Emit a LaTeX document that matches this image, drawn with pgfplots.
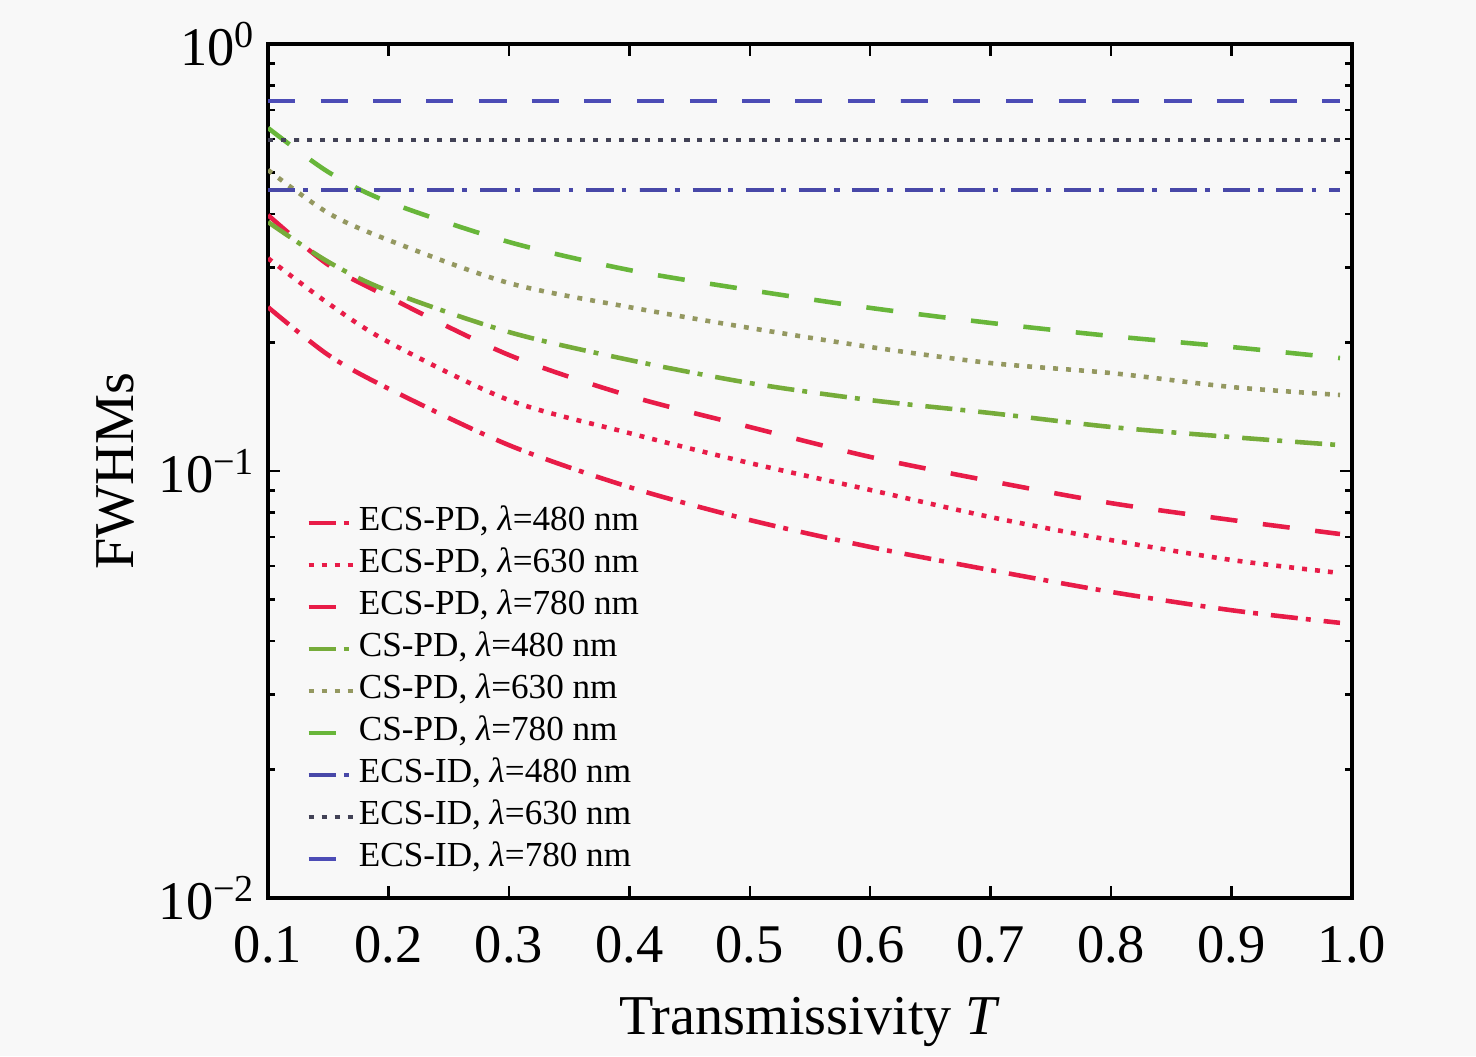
\documentclass[border=0pt]{standalone}
\usepackage{fontspec}
\setmainfont{Liberation Serif}
\usepackage{pgfplots}
\usepackage{pgfplotstable}
\pgfplotsset{compat=1.18}
\definecolor{bgc}{RGB}{248,248,248}
\definecolor{pdc}{RGB}{232,28,72}
\definecolor{csa}{RGB}{118,172,58}
\definecolor{csb}{RGB}{148,152,96}
\definecolor{csc}{RGB}{104,182,58}
\definecolor{ida}{RGB}{72,72,168}
\definecolor{idb}{RGB}{66,66,86}
\definecolor{idc}{RGB}{76,76,182}
\pgfplotstableread{
T     pa      pb      pc      ca      cb      cc
0.10  0.242   0.315   0.3976  0.383   0.507   0.636
0.15  0.187   0.247   0.304   0.309   0.402   0.5015
0.20  0.156   0.2005  0.2556  0.264   0.3475  0.4266
0.30  0.115   0.1466  0.187   0.2116  0.2756  0.3439
0.40  0.0917  0.1227  0.150   0.182   0.242   0.2956
0.50  0.0768  0.1044  0.1268  0.1607  0.2163  0.2654
0.60  0.0664  0.0903  0.1079  0.1466  0.1952  0.241
0.70  0.0586  0.0780  0.0947  0.1367  0.179   0.2222
0.80  0.0521  0.0689  0.0841  0.1268  0.1696  0.2071
0.90  0.0472  0.0619  0.0768  0.1201  0.1573  0.1952
0.99  0.0441  0.0577  0.0712  0.1150  0.1507  0.1839
}\data
\tikzset{
  lddot/.style={dash pattern=on 7.7pt off 2.3pt on 1.4pt off 3.7pt},
  ldott/.style={dash pattern=on 1.4pt off 2.3pt},
  ldash/.style={dash pattern=on 7.7pt off 7.3pt},
}
\begin{document}
\begin{tikzpicture}
\fill[bgc] (0,0) rectangle (14.76cm,10.56cm);
\useasboundingbox (0,0) rectangle (14.76cm,10.56cm);
\begin{axis}[
  at={(2.68cm,1.58cm)}, anchor=south west,
  scale only axis, width=10.84cm, height=8.54cm,
  ymode=log, xmin=0.1, xmax=1, ymin=0.01, ymax=1,
  xtick={0.1,0.2,0.3,0.4,0.5,0.6,0.7,0.8,0.9,1.0},
  xticklabels={0.1,0.2,0.3,0.4,0.5,0.6,0.7,0.8,0.9,1.0},
  ytick={0.01,0.1,1},
  yticklabels={10\textsuperscript{−2},10\textsuperscript{−1},10\textsuperscript{0}},
  tick label style={font=\fontsize{15.5}{18}\selectfont},
  xticklabel style={yshift=-1.6mm},
  xlabel={Transmissivity \textit{T}}, ylabel={FWHMs},
  label style={font=\fontsize{16}{19}\selectfont},
  xlabel style={yshift=-1.0mm},
  tick align=inside, major tick length=0.12cm, minor tick length=0.07cm,
  axis line style={line width=1pt},
  every tick/.style={black, line width=0.7pt},
  every axis plot/.append style={line width=1.3pt, smooth},
  legend cell align=left,
  legend style={draw=none, fill=none, at={(0.025,0.012)}, anchor=south west,
    font=\fontsize{10}{12}\selectfont, row sep=0pt, column sep=0pt,
    nodes={inner sep=0pt, text height=8pt, text depth=3.95pt}},
  legend image code/.code={\draw[#1] (0cm,0cm) -- (0.48cm,0cm);},
]
\addplot[pdc, lddot] table[x=T,y=pa] {\data};
\addlegendentry{ECS-PD, {\itshape λ}=480 nm}
\addplot[pdc, ldott] table[x=T,y=pb] {\data};
\addlegendentry{ECS-PD, {\itshape λ}=630 nm}
\addplot[pdc, ldash] table[x=T,y=pc] {\data};
\addlegendentry{ECS-PD, {\itshape λ}=780 nm}
\addplot[csa, lddot] table[x=T,y=ca] {\data};
\addlegendentry{CS-PD, {\itshape λ}=480 nm}
\addplot[csb, ldott] table[x=T,y=cb] {\data};
\addlegendentry{CS-PD, {\itshape λ}=630 nm}
\addplot[csc, ldash] table[x=T,y=cc] {\data};
\addlegendentry{CS-PD, {\itshape λ}=780 nm}
\addplot[ida, lddot] coordinates {(0.1,0.455) (0.99,0.455)};
\addlegendentry{ECS-ID, {\itshape λ}=480 nm}
\addplot[idb, ldott] coordinates {(0.1,0.596) (0.99,0.596)};
\addlegendentry{ECS-ID, {\itshape λ}=630 nm}
\addplot[idc, ldash] coordinates {(0.1,0.735) (0.99,0.735)};
\addlegendentry{ECS-ID, {\itshape λ}=780 nm}
\end{axis}
\end{tikzpicture}
\end{document}
